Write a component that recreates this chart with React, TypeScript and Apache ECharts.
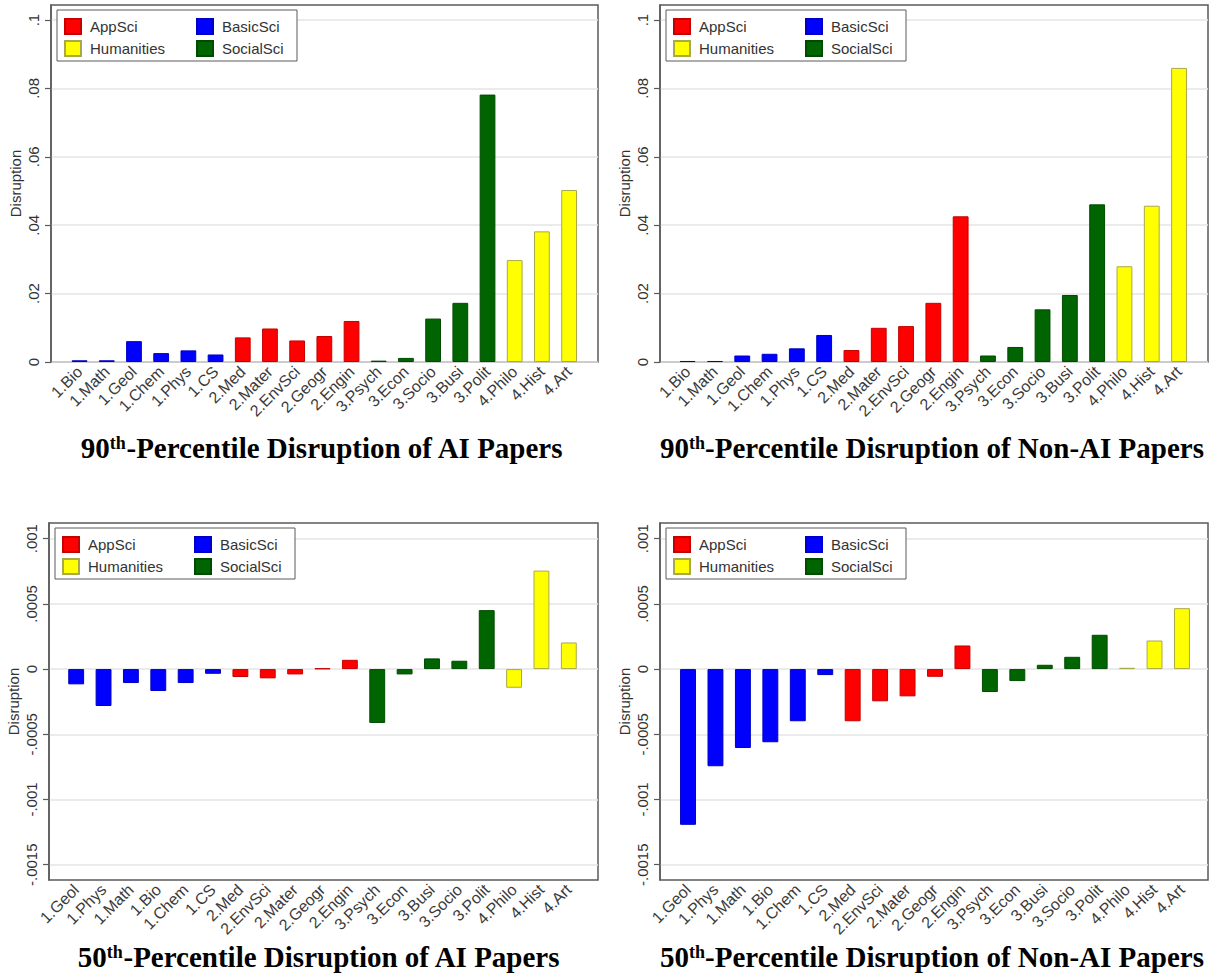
import React, { useEffect, useRef } from 'react';
import * as echarts from 'echarts';

// ---------- data ----------
const groupNames = ['AppSci', 'BasicSci', 'Humanities', 'SocialSci'];
const groupColors = ['#ff0000', '#0000ff', '#ffff00', '#006400'];
const groupBorders = ['#c40000', '#0000c4', '#a9a94a', '#004b00'];
// prefix of category -> group index
const prefixGroup: Record<string, number> = { '1': 1, '2': 0, '3': 3, '4': 2 };
const legendCol1 = ['AppSci', 'Humanities'];
const legendCol2 = ['BasicSci', 'SocialSci'];

const cats90 = ['1.Bio', '1.Math', '1.Geol', '1.Chem', '1.Phys', '1.CS', '2.Med', '2.Mater', '2.EnvSci', '2.Geogr', '2.Engin', '3.Psych', '3.Econ', '3.Socio', '3.Busi', '3.Polit', '4.Philo', '4.Hist', '4.Art'];
const vals90AI = [0.0005, 0.0005, 0.0061, 0.0026, 0.0034, 0.0022, 0.0072, 0.0098, 0.0063, 0.0076, 0.012, 0.0004, 0.0012, 0.0127, 0.0173, 0.0782, 0.0298, 0.0382, 0.0503];
const vals90NonAI = [0.0003, 0.0003, 0.0019, 0.0024, 0.004, 0.0079, 0.0035, 0.01, 0.0105, 0.0173, 0.0426, 0.0019, 0.0044, 0.0154, 0.0196, 0.0461, 0.028, 0.0457, 0.086];

const cats50 = ['1.Geol', '1.Phys', '1.Math', '1.Bio', '1.Chem', '1.CS', '2.Med', '2.EnvSci', '2.Mater', '2.Geogr', '2.Engin', '3.Psych', '3.Econ', '3.Busi', '3.Socio', '3.Polit', '4.Philo', '4.Hist', '4.Art'];
const vals50AI = [-0.000117, -0.000283, -0.000107, -0.000168, -0.000107, -0.000036, -0.000061, -0.000071, -0.000041, 0.000005, 0.000071, -0.000413, -0.000041, 0.000082, 0.000064, 0.000452, -0.000143, 0.000755, 0.000204];
const vals50NonAI = [-0.001194, -0.000745, -0.000605, -0.000561, -0.0004, -0.000046, -0.0004, -0.000247, -0.000209, -0.000059, 0.000181, -0.000176, -0.000092, 0.000033, 0.000094, 0.000263, 0.00001, 0.000219, 0.000467];

const ticks90 = [0, 0.02, 0.04, 0.06, 0.08, 0.1];
const ticks50 = [-0.0015, -0.001, -0.0005, 0, 0.0005, 0.001];
const range90 = [0, 0.1044];
const range50 = [-0.001617, 0.00112];

const yAxisName = 'Disruption';
const title90AI = ['90', 'th', '-Percentile Disruption of AI Papers'];
const title90NonAI = ['90', 'th', '-Percentile Disruption of Non-AI Papers'];
const title50AI = ['50', 'th', '-Percentile Disruption of AI Papers'];
const title50NonAI = ['50', 'th', '-Percentile Disruption of Non-AI Papers'];

// ---------- layout ----------
const SANS = "'Liberation Sans', Arial, Helvetica, sans-serif";
const SERIF = "'Liberation Serif', 'Times New Roman', serif";

const panels = [
  { cats: cats90, vals: vals90AI, ticks: ticks90, range: range90, title: title90AI, frame: [51, 5, 598, 362], band: [66, 582.7], tx: 322, ty: 448 },
  { cats: cats90, vals: vals90NonAI, ticks: ticks90, range: range90, title: title90NonAI, frame: [660, 5, 1208, 362], band: [674, 1192.7], tx: 932, ty: 448 },
  { cats: cats50, vals: vals50AI, ticks: ticks50, range: range50, title: title50AI, frame: [49, 523, 598, 880], band: [62.5, 582.5], tx: 319, ty: 957 },
  { cats: cats50, vals: vals50NonAI, ticks: ticks50, range: range50, title: title50NonAI, frame: [660, 523, 1208, 880], band: [674.3, 1195.7], tx: 932, ty: 957 },
];

const stata = (v: number) => {
  if (Math.abs(v) < 1e-12) return '0';
  const s = String(parseFloat(v.toPrecision(6)));
  return s.replace(/^(-?)0\./, '$1.');
};

function legendCol(names: string[], left: number, top: number) {
  return {
    data: names,
    orient: 'vertical',
    left,
    top,
    z: 5,
    icon: 'rect',
    itemWidth: 16,
    itemHeight: 15,
    itemGap: 5,
    selectedMode: false,
    padding: 0,
    textStyle: { fontSize: 15, color: '#333', fontFamily: SANS, padding: [0, 0, 0, 4] },
  };
}

function buildOption() {
  const grid: any[] = [];
  const xAxis: any[] = [];
  const yAxis: any[] = [];
  const series: any[] = [];
  const legend: any[] = [];
  const graphic: any[] = [];

  panels.forEach((p, i) => {
    const [l, t, r, b] = p.frame;
    const fi = 2 * i;
    const bi = 2 * i + 1;
    grid.push({ left: l, top: t, width: r - l, height: b - t, show: true, borderColor: '#5a5a5a', borderWidth: 1.5, backgroundColor: 'transparent' });
    grid.push({ left: p.band[0], top: t, width: p.band[1] - p.band[0], height: b - t });

    xAxis.push({ gridIndex: fi, type: 'category', data: [''], show: false });
    xAxis.push({
      gridIndex: bi,
      type: 'category',
      data: p.cats,
      axisLine: { show: false, onZero: false },
      axisTick: { show: false },
      splitLine: { show: false },
      axisLabel: { interval: 0, rotate: 45, margin: 7, fontSize: 16, color: '#3a3a3a', fontFamily: SANS },
    });

    yAxis.push({
      gridIndex: fi,
      type: 'value',
      min: p.range[0],
      max: p.range[1],
      name: yAxisName,
      nameLocation: 'middle',
      nameGap: 28,
      nameTextStyle: { fontSize: 15, color: '#333', fontFamily: SANS },
      axisLine: { show: true, lineStyle: { color: '#5a5a5a', width: 1.5 } },
      axisTick: { show: true, length: 6, lineStyle: { color: '#5a5a5a', width: 1.2 }, customValues: p.ticks },
      axisLabel: {
        rotate: 90,
        margin: 10,
        fontSize: 15,
        color: '#333',
        fontFamily: SANS,
        customValues: p.ticks,
        formatter: (v: number) => stata(v),
      },
      splitLine: { show: true, lineStyle: { color: '#e4e4e4', width: 1.5 } },
    });
    yAxis.push({ gridIndex: bi, type: 'value', min: p.range[0], max: p.range[1], show: false, splitLine: { show: false } });

    groupNames.forEach((g, gi) => {
      series.push({
        type: 'bar',
        name: g,
        xAxisIndex: bi,
        yAxisIndex: bi,
        stack: 'panel' + i,
        barWidth: '58%',
        itemStyle: { color: groupColors[gi], borderColor: groupBorders[gi], borderWidth: 1 },
        data: p.vals.map((v, k) => (prefixGroup[p.cats[k].charAt(0)] === gi ? v : '-')),
      });
    });

    // legend: box + two columns
    graphic.push({
      type: 'rect',
      z: 3,
      shape: { x: l + 6, y: t + 5, width: 240, height: 51 },
      style: { fill: '#fff', stroke: '#5a5a5a', lineWidth: 1 },
    });
    legend.push(legendCol(legendCol1, l + 13, t + 13));
    legend.push(legendCol(legendCol2, l + 145, t + 13));

    graphic.push({
      type: 'text',
      x: p.tx,
      y: p.ty,
      style: {
        text: `{n|${p.title[0]}}{s|${p.title[1]}}{n|${p.title[2]}}`,
        align: 'center',
        verticalAlign: 'middle',
        rich: {
          n: { fontSize: 29, fontWeight: 'bold', fontFamily: SERIF, fill: '#000', color: '#000' },
          s: { fontSize: 18, fontWeight: 'bold', fontFamily: SERIF, fill: '#000', color: '#000', verticalAlign: 'top' },
        },
      },
    });
  });

  return { animation: false, backgroundColor: '#fff', grid, xAxis, yAxis, series, legend, graphic };
}

export default function App() {
  const ref = useRef<HTMLDivElement>(null);
  useEffect(() => {
    if (!ref.current) return;
    const chart = echarts.init(ref.current, null, { renderer: 'svg' });
    chart.setOption(buildOption() as any);
    return () => chart.dispose();
  }, []);
  return <div ref={ref} style={{ position: 'absolute', left: 0, top: 0, width: 1213, height: 977, background: '#fff' }} />;
}
